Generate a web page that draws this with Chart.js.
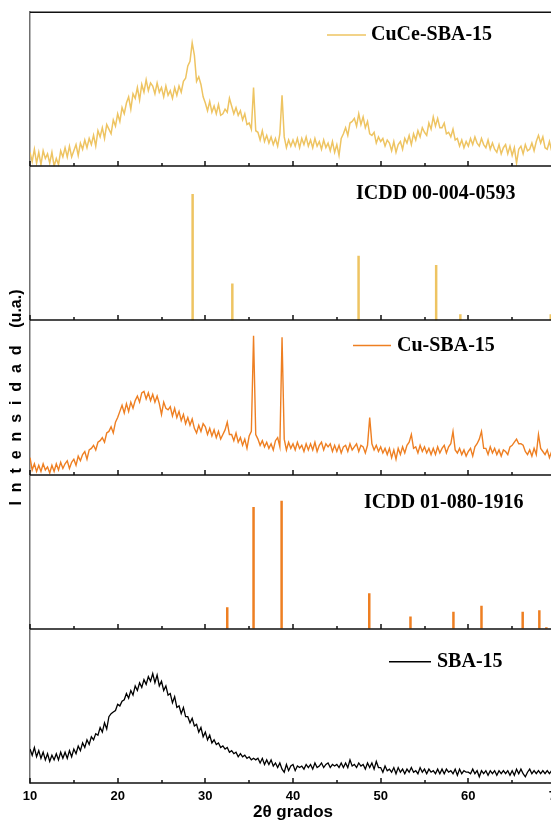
<!DOCTYPE html>
<html><head><meta charset="utf-8">
<script src="https://cdn.jsdelivr.net/npm/chart.js@4.4.1/dist/chart.umd.min.js"></script>
<style>
html,body{margin:0;padding:0;background:#fff;overflow:hidden;width:551px;height:823px}
#wrap{position:absolute;left:0;top:0;width:570px;height:823px}
</style>
</head><body><div id="wrap"><canvas id="c" width="570" height="823"></canvas></div>
<script>
// ---------- data ----------
const xStart = 10, xStep = 0.25;           // 2θ sampling of the patterns
const xTicks = [10, 20, 30, 40, 50, 60, 70];
const panelLabels = ['CuCe-SBA-15', 'ICDD 00-004-0593', 'Cu-SBA-15', 'ICDD 01-080-1916', 'SBA-15'];
const yTitle = 'I  n  t  e  n  s  i  d  a  d    (u.a.)';
const xTitle = '2θ grados';

const cuceSBA = [
 9,3,11,2,  9,1,10,5,  8,2,9,0,  5,1,10,6,  12,6,13,6,              // 10-14
 10,14,7,15,  11,17,12,18,  14,20,13,23,  19,25,18,27,  24,21,30,26, // 15-19
 34,29,38,34,  41,45,37,47,  44,51,43,53,  48,56,49,54,  52,47,54,48, // 20-24
 51,45,52,46,  49,44,51,46,  52,48,55,57,  65,68,80,72,  55,58,53,45, // 25-29
 41,36,42,35,  39,34,40,33,  34,37,35,44,  39,34,38,33,  36,30,34,27, // 30-34
 28,24,51,23,  22,17,23,16,  20,15,19,14,  18,13,21,46,  19,12,17,13, // 35-39
 17,13,18,12,  18,14,19,13,  17,12,18,13,  16,11,17,12,  15,10,16,9,  // 40-44
 14,7,18,21,  25,20,28,29,  31,26,34,27,  32,25,29,21,  20,22,15,19,  // 45-49
 16,18,13,17,  15,10,16,9,  14,16,11,18,  15,20,14,21,  17,23,19,25,  // 50-54
 22,20,28,24,  32,26,31,25,  25,28,21,22,  19,24,17,18,  13,17,12,16, // 55-59
 13,18,14,19,  15,13,18,14,  12,17,11,15,  11,9,14,8,  12,14,8,13,    // 60-64
 7,12,2,11,  13,8,14,10,  11,15,10,16,  20,15,19,12,  11,16,10,15,    // 65-69
 12];

const ceo2Pos = [28.55, 33.08, 47.48, 56.33, 59.09, 69.4];
const ceo2Int = [82, 24, 42, 36, 4, 4];

const cuSBA = [
 11,3,7,2,  6,2,7,3,  5,1,6,2,  7,3,8,4,  7,9,4,8,                  // 10-14
 10,6,12,9,  13,15,10,16,  17,19,16,21,  22,24,21,27,  28,31,27,34, // 15-19
 37,41,45,40,  46,41,47,43,  48,51,47,53,  54,49,53,48,  52,47,51,46, // 20-24
 39,47,43,42,  44,38,43,37,  41,35,39,33,  37,32,36,30,  27,32,28,33, // 25-29
 31,26,30,25,  29,24,28,23,  26,29,34,26,  26,22,27,21,  24,19,23,17, // 30-34
 25,28,90,26,  23,19,22,18,  21,17,20,16,  22,24,18,89,  23,16,21,17, // 35-39
 20,16,21,17,  19,15,20,16,  20,16,21,15,  19,21,16,20,  18,20,15,19, // 40-44
 15,19,14,18,  19,15,20,16,  18,20,15,19,  18,14,19,37,  20,16,19,15, // 45-49
 18,14,17,13,  17,11,16,10,  17,13,18,14,  19,21,26,17,  18,14,19,15, // 50-54
 18,14,17,13,  17,13,18,14,  17,19,14,18,  20,28,16,14,  17,13,16,12, // 55-59
 15,17,12,18,  20,23,28,17,  17,13,18,14,  17,13,16,12,  16,15,13,18, // 60-64
 19,21,23,20,  20,19,15,13,  16,12,17,13,  26,17,15,13,  16,11,15,10, // 65-69
 12];

const cuoPos = [32.5, 35.5, 38.7, 48.7, 53.4, 58.3, 61.5, 66.2, 68.1, 68.9];
const cuoInt = [14, 79, 83, 23, 8, 11, 15, 11, 12, 1];

const sba15 = [
 22,18,23,17,  21,16,20,15,  19,14,18,15,  19,15,20,16,  20,16,21,17, // 10-14
 22,19,24,21,  26,23,28,25,  30,28,32,31,  36,33,39,35,  43,45,46,47, // 15-19
 51,50,53,54,  58,55,60,57,  63,60,65,62,  67,64,69,66,  71,65,70,63, // 20-24
 66,60,63,57,  58,52,56,49,  50,45,49,43,  43,39,42,37,  38,33,36,30, // 25-29
 33,28,31,26,  28,25,26,23,  24,22,23,20,  21,19,20,17,  19,17,18,16, // 30-34
 17,15,16,15,  16,13,16,12,  15,12,15,11,  13,10,13,9,  7,12,8,11,    // 35-39
 12,8,11,10,  11,9,12,10,  12,9,13,10,  11,13,10,12,  13,10,12,11,    // 40-44
 12,10,13,10,  13,10,15,11,  12,10,13,11,  12,9,13,10,  13,9,14,10,   // 45-49
 10,7,11,8,  9,7,10,6,  10,7,9,6,  9,7,10,7,  8,6,10,7,               // 50-54
 9,6,9,7,  8,6,9,6,  9,6,9,7,  8,6,9,5,  9,6,8,7,                     // 55-59
 7,6,9,6,  8,4,8,6,  8,5,8,6,  8,5,8,6,  8,6,8,5,                     // 60-64
 8,5,9,6,  9,6,4,7,  9,6,8,6,  8,6,8,6,  8,6,8,6,                     // 65-69
 7];

const seriesColors = ['#EEC462', '#EEC462', '#EE7F22', '#EE7F22', '#000000'];

// ---------- helpers ----------
const toPts = arr => arr.map((v, i) => ({x: xStart + i * xStep, y: v}));
const sticks = (pos, ints) => pos.flatMap((p, i) => [{x: p, y: 0}, {x: p, y: ints[i]}, {x: p, y: null}]);
const sansFam = '"Liberation Sans", Arial, sans-serif';
const serifFam = '"Liberation Serif", "Times New Roman", serif';

const yAxis = (withTitle) => ({
  type: 'linear', position: 'left', stack: 'panels', stackWeight: 1,
  min: 0, max: 100,
  grid: {display: false, drawTicks: false},
  ticks: {display: false},
  border: {display: true, color: '#707070', width: 1.5},
  title: withTitle ? {
    display: true, text: yTitle, color: '#000',
    font: {family: sansFam, weight: 'bold', size: 16},
    padding: {top: 7, bottom: 0}
  } : {display: false},
  afterFit(s) { s.width = 30; }
});

const panelAxes = ['y1', 'y2', 'y3', 'y4', 'y5'];
const placements = [
  {dy: 23, line: [327, 366], tx: 371},
  {dy: 28, tx: 356},
  {dy: 25, line: [353, 391], tx: 397},
  {dy: 28, tx: 364},
  {dy: 33, line: [389, 431], tx: 437}
];

const framePlugin = {
  id: 'frames',
  afterDraw(chart) {
    const ctx = chart.ctx, xs = chart.scales.x, area = chart.chartArea;
    const majors = xTicks;
    const minors = [];
    for (let i = 0; i < majors.length - 1; i++) minors.push((majors[i] + majors[i + 1]) / 2);
    ctx.save();
    ctx.strokeStyle = '#111';
    ctx.lineWidth = 1.5;
    const topY = Math.round(chart.scales.y1.top) + 0.25;
    ctx.beginPath(); ctx.moveTo(area.left, topY); ctx.lineTo(area.right + 10, topY); ctx.stroke();
    panelAxes.forEach(id => {
      const s = chart.scales[id];
      const yb = Math.round(s.bottom);
      ctx.beginPath();
      ctx.moveTo(area.left, yb); ctx.lineTo(area.right + 10, yb);
      majors.forEach(v => { const px = Math.round(xs.getPixelForValue(v)); ctx.moveTo(px, yb); ctx.lineTo(px, yb - 5); });
      minors.forEach(v => { const px = Math.round(xs.getPixelForValue(v)); ctx.moveTo(px, yb); ctx.lineTo(px, yb - 3); });
      ctx.stroke();
    });
    ctx.font = 'bold 20px ' + serifFam;
    ctx.textBaseline = 'middle';
    ctx.textAlign = 'left';
    ctx.fillStyle = '#000';
    panelAxes.forEach((id, i) => {
      const s = chart.scales[id];
      const p = placements[i];
      const y = s.top + p.dy;
      if (p.line) {
        ctx.strokeStyle = seriesColors[i];
        ctx.lineWidth = 1.5;
        ctx.beginPath(); ctx.moveTo(p.line[0], y); ctx.lineTo(p.line[1], y); ctx.stroke();
      }
      ctx.fillText(panelLabels[i], p.tx, y);
    });
    ctx.restore();
  }
};

const lineDs = (label, arr, axis, color, w) => ({
  label, data: toPts(arr), yAxisID: axis, borderColor: color, backgroundColor: color,
  borderWidth: w, pointRadius: 0, tension: 0, fill: false
});
const stickDs = (label, pos, ints, axis, color) => ({
  label, data: sticks(pos, ints), yAxisID: axis, borderColor: color, backgroundColor: color,
  borderWidth: 2.5, pointRadius: 0, tension: 0, fill: false, spanGaps: false, borderCapStyle: 'butt'
});

new Chart(document.getElementById('c'), {
  type: 'line',
  data: {
    datasets: [
      lineDs(panelLabels[0], cuceSBA, 'y1', seriesColors[0], 1.5),
      stickDs(panelLabels[1], ceo2Pos, ceo2Int, 'y2', seriesColors[1]),
      lineDs(panelLabels[2], cuSBA, 'y3', seriesColors[2], 1.4),
      stickDs(panelLabels[3], cuoPos, cuoInt, 'y4', seriesColors[3]),
      lineDs(panelLabels[4], sba15, 'y5', seriesColors[4], 1.3)
    ]
  },
  options: {
    responsive: false, animation: false, devicePixelRatio: 1,
    layout: {padding: {top: 12, right: 14, left: 0, bottom: 0}},
    plugins: {legend: {display: false}, tooltip: {enabled: false}},
    scales: {
      x: {
        type: 'linear', position: 'bottom', min: 10, max: 70,
        afterBuildTicks(s) { s.ticks = xTicks.map(v => ({value: v})); },
        ticks: {color: '#000', font: {family: sansFam, weight: 'bold', size: 13}, padding: 6, maxRotation: 0, autoSkip: false},
        grid: {display: false, drawTicks: false},
        border: {display: false},
        title: {display: true, text: xTitle, color: '#000', font: {family: sansFam, weight: 'bold', size: 17}, padding: {top: 0, bottom: 0}},
        afterFit(s) { s.height = 40; s.paddingLeft = 0; s.paddingRight = 0; }
      },
      y5: yAxis(false),
      y4: yAxis(false),
      y3: yAxis(true),
      y2: yAxis(false),
      y1: yAxis(false)
    }
  },
  plugins: [framePlugin]
});
</script></body></html>
